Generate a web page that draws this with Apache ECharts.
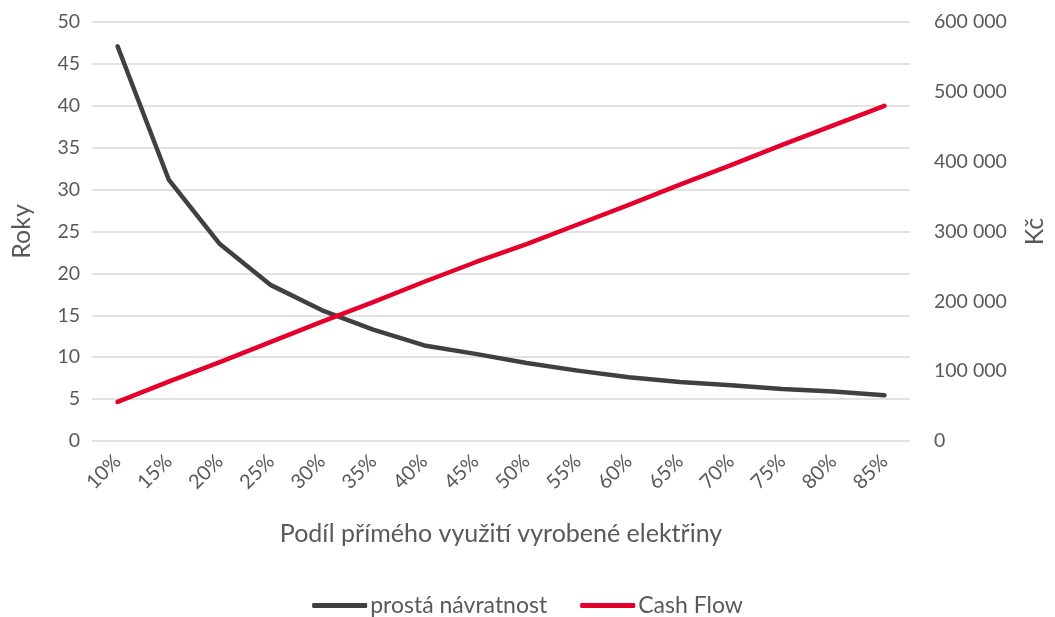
<!DOCTYPE html>
<html>
<head>
<meta charset="utf-8">
<script src="https://cdn.jsdelivr.net/npm/echarts@6/dist/echarts.min.js"></script>
<style>
html,body{margin:0;padding:0;background:#fff;}
#c{width:1055px;height:617px;}
</style>
</head>
<body>
<div id="c"></div>
<script>
const categories = ['10%','15%','20%','25%','30%','35%','40%','45%','50%','55%','60%','65%','70%','75%','80%','85%'];
const paybackYears = [47.1, 31.2, 23.5, 18.6, 15.6, 13.3, 11.4, 10.4, 9.3, 8.4, 7.6, 7.05, 6.65, 6.2, 5.9, 5.45];
const cashFlow = [56000, 85000, 113000, 142000, 171000, 199000, 228000, 256000, 282000, 310000, 338000, 367000, 395000, 424000, 452000, 480000];
const seriesNames = ['prostá návratnost', 'Cash Flow'];
const xAxisName = 'Podíl přímého využití vyrobené elektřiny';
const leftAxisName = 'Roky';
const rightAxisName = 'Kč';

const FONT = 'Lato';
const TXT = '#595959';
const chart = echarts.init(document.getElementById('c'), null, {renderer: 'canvas'});
chart.setOption({
  animation: false,
  textStyle: {fontFamily: FONT},
  grid: {left: 92, right: 136, top: 22, bottom: 176, containLabel: false},
  legend: {
    top: 589,
    left: 'center',
    itemWidth: 55,
    itemHeight: 5,
    itemGap: 33,
    icon: 'roundRect',
    textStyle: {color: TXT, fontSize: 23, fontFamily: FONT, padding: [0, 0, 0, -2]},
    data: seriesNames
  },
  xAxis: {
    type: 'category',
    data: categories,
    boundaryGap: true,
    name: xAxisName,
    nameLocation: 'middle',
    nameGap: 80,
    nameTextStyle: {color: TXT, fontSize: 25, fontFamily: FONT},
    axisLine: {show: false},
    axisTick: {show: false},
    axisLabel: {color: TXT, fontSize: 20, rotate: 45, margin: 17, fontFamily: FONT, interval: 0}
  },
  yAxis: [
    {
      type: 'value', min: 0, max: 50, interval: 5,
      name: leftAxisName, nameLocation: 'middle', nameRotate: 90, nameGap: 58,
      nameTextStyle: {color: TXT, fontSize: 25, fontFamily: FONT},
      axisLine: {show: false}, axisTick: {show: false},
      axisLabel: {color: TXT, fontSize: 19.5, margin: 12, fontFamily: FONT},
      splitLine: {lineStyle: {color: '#d9d9d9', width: 1.5}}
    },
    {
      type: 'value', min: 0, max: 600000, interval: 100000, position: 'right',
      name: rightAxisName, nameLocation: 'middle', nameRotate: 90, nameGap: 112,
      nameTextStyle: {color: TXT, fontSize: 25, fontFamily: FONT},
      axisLine: {show: false}, axisTick: {show: false},
      axisLabel: {color: TXT, fontSize: 19.5, margin: 24, fontFamily: FONT,
        formatter: v => v === 0 ? '0' : String(v).replace(/\B(?=(\d{3})+(?!\d))/g, ' ')},
      splitLine: {show: false}
    }
  ],
  series: [
    {
      name: seriesNames[0], type: 'line', yAxisIndex: 0, data: paybackYears,
      showSymbol: false, symbol: 'none',
      lineStyle: {color: '#404040', width: 4.5, cap: 'round', join: 'round'},
      itemStyle: {color: '#404040'}
    },
    {
      name: seriesNames[1], type: 'line', yAxisIndex: 1, data: cashFlow,
      showSymbol: false, symbol: 'none',
      lineStyle: {color: '#e4002b', width: 4.5, cap: 'round', join: 'round'},
      itemStyle: {color: '#e4002b'}
    }
  ]
});
</script>
</body>
</html>
